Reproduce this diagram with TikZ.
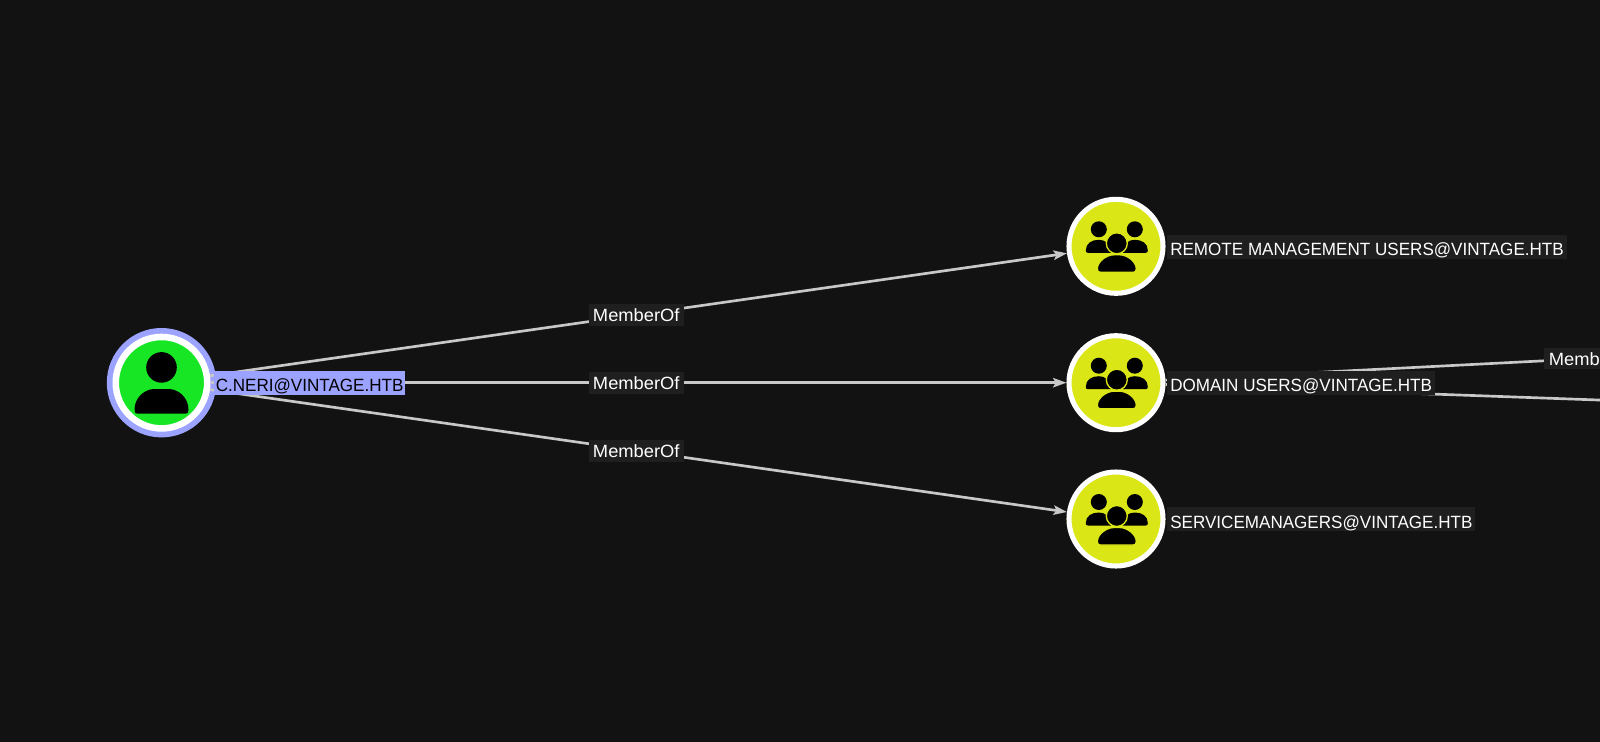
\documentclass[tikz,border=0pt]{standalone}
\usepackage{fontspec}
\setmainfont{Liberation Sans}
\newfontfamily\grpfont[FakeStretch=0.9625]{Liberation Sans}
\newfontfamily\edgfont[FakeStretch=1.033]{Liberation Sans}
\usetikzlibrary{arrows.meta,calc}
\definecolor{bgc}{HTML}{121212}
\definecolor{lab}{HTML}{1F1F1F}
\definecolor{edgec}{HTML}{C8C8C8}
\definecolor{sel}{HTML}{9CA3FF}
\definecolor{ugreen}{HTML}{17E625}
\definecolor{gyellow}{HTML}{DBE617}
\tikzset{
  x=0.75pt,y=-0.75pt,
  edge/.style={draw=edgec,line width=2pt},
  arrowedge/.style={edge,-{Stealth[length=10pt,width=7pt,inset=2pt,fill=edgec]}},
  glabel/.style={fill=lab,text=white,font=\grpfont\fontsize{13.3}{15}\selectfont,inner xsep=2.25pt,inner ysep=0pt,text height=15.5pt,text depth=2.5pt,anchor=base west},
  selabel/.style={glabel,fill=sel,text=black,inner xsep=1.5pt},
  elabel/.style={fill=lab,text=white,font=\edgfont\fontsize{13.3}{15}\selectfont,inner xsep=3pt,inner ysep=0pt,text height=13pt,text depth=3.3pt,anchor=base},
  groupnode/.style={circle,draw=white,fill=gyellow,line width=3.8pt,minimum size=70.5pt,inner sep=0pt},
  usernode/.style={circle,draw=white,fill=ugreen,line width=4.9pt,minimum size=68.6pt,inner sep=0pt},
}
\newcommand{\groupicon}[1]{%
  \begin{scope}[shift={(#1)},xshift=0.6pt]
    \fill[black] (-18,-17) circle (8);
    \fill[black] (18,-17) circle (8);
    \fill[black] (-31,4) .. controls (-31,-3) and (-25,-6.5) .. (-18,-6.5) .. controls (-12,-6.5) and (-6,-3) .. (-6,6.5) -- (-29,6.5) .. controls (-30.5,6.5) and (-31,5.5) .. (-31,4) -- cycle;
    \fill[black] (31,4) .. controls (31,-3) and (25,-6.5) .. (18,-6.5) .. controls (12,-6.5) and (6,-3) .. (6,6.5) -- (29,6.5) .. controls (30.5,6.5) and (31,5.5) .. (31,4) -- cycle;
    \filldraw[fill=black,draw=gyellow,line width=1pt] (0,-3) circle (10.5);
    \filldraw[fill=black,draw=gyellow,line width=1pt] (-19.5,22.5) .. controls (-19.5,15) and (-10,8.5) .. (-3,8.5) -- (3,8.5) .. controls (10,8.5) and (19.5,15) .. (19.5,22.5) .. controls (19.5,25) and (18.5,26) .. (16.5,26) -- (-16.5,26) .. controls (-18.5,26) and (-19.5,25) .. (-19.5,22.5) -- cycle;
  \end{scope}}
\begin{document}
\begin{tikzpicture}
\useasboundingbox[fill=bgc] (0,0) rectangle (1600,742);
\clip (0,0) rectangle (1600,742);
\fill[sel] (161.5,382.7) circle (54.7);
\node[usernode] (u) at (161.5,382.7) {};
\node[groupnode] (g1) at (1116,246.3) {};
\node[groupnode] (g2) at (1116,382.7) {};
\node[groupnode] (g3) at (1116,519) {};
\coordinate (o1) at (1595,358.2);
\coordinate (o2) at (1640,401.5);
\draw[arrowedge] (u) -- (g1);
\draw[arrowedge] (u) -- (g2);
\draw[arrowedge] (u) -- (g3);
\draw[edge] (g2) -- (o1);
\draw[edge] (g2) -- (o2);
\begin{scope}[shift={(u.center)}]
  \fill[black] (0,-15.3) circle (15.3);
  \fill[black] (-27,27) .. controls (-27,15) and (-17,6.3) .. (-7,6.3) -- (7,6.3) .. controls (17,6.3) and (27,15) .. (27,27) .. controls (27,30) and (26,31) .. (24,31) -- (-24,31) .. controls (-26,31) and (-27,30) .. (-27,27) -- cycle;
\end{scope}
\groupicon{g1.center}
\groupicon{g2.center}
\groupicon{g3.center}
\node[elabel] (m1) at ($(u)!0.5!(g1)+(-2.5,6.6)$) {MemberOf};
\node[elabel] (m2) at ($(u)!0.5!(g2)+(-2.5,6.6)$) {MemberOf};
\node[elabel] (m3) at ($(u)!0.5!(g3)+(-2.5,6.6)$) {MemberOf};
\node[elabel,anchor=base west,minimum width=45pt] (m4) at (1544,365) {Memb\hfill};
\node[selabel] (lu) at (213.5,391.7) {C.NERI@VINTAGE.HTB};
\node[glabel] (l1) at (1167,255.3) {REMOTE MANAGEMENT USERS@VINTAGE.HTB};
\node[glabel] (l2) at (1167,391.7) {DOMAIN USERS@VINTAGE.HTB};
\node[glabel] (l3) at (1167,528) {SERVICEMANAGERS@VINTAGE.HTB};
\end{tikzpicture}
\end{document}
